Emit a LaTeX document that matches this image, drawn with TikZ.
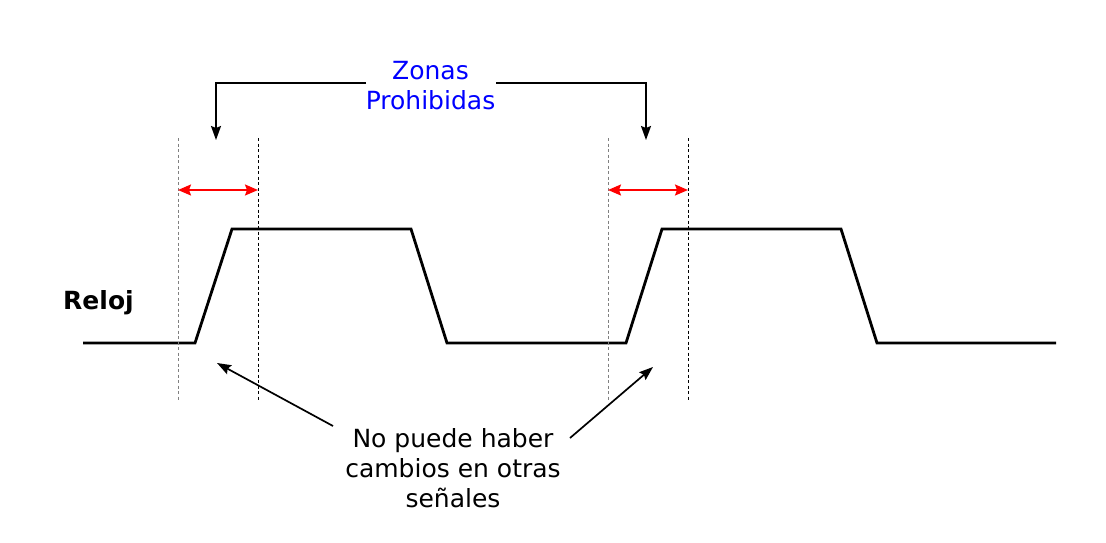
\documentclass[tikz,border=0pt]{standalone}
\usepackage{fontspec}
\setmainfont{DejaVu Sans}
\usetikzlibrary{arrows.meta}
\begin{document}
\begin{tikzpicture}[x=1pt,y=-1pt,
  wave/.style={line width=2.8pt, line join=miter},
  guide/.style={line width=0.9pt, dash pattern=on 3pt off 2.5pt},
  zone/.style={red, line width=1.8pt, {Stealth[length=13pt,width=11pt,inset=2pt]}-{Stealth[length=13pt,width=11pt,inset=2pt]}},
  pointer/.style={line width=1.7pt, -{Stealth[length=14pt,width=10pt,inset=2pt]}},
  lbl/.style={font=\fontsize{25}{30}\selectfont, align=center, inner sep=0pt}]
\useasboundingbox (0,0) rectangle (1106,542);
% clock waveform
\coordinate (w0) at (83,343);
\coordinate (w1) at (195,343);
\coordinate (w2) at (232,229);
\coordinate (w3) at (411,229);
\coordinate (w4) at (447,343);
\coordinate (w5) at (626,343);
\coordinate (w6) at (662,229);
\coordinate (w7) at (841,229);
\coordinate (w8) at (877,343);
\coordinate (w9) at (1056,343);
\draw[wave] (w0) -- (w1) -- (w2) -- (w3) -- (w4) -- (w5) -- (w6) -- (w7) -- (w8) -- (w9);
\node[lbl, font=\fontsize{25}{30}\selectfont\bfseries] (reloj) at (98.5,303) {Reloj};
% guide lines
\coordinate (g1t) at (178,138); \coordinate (g1b) at (178,400);
\coordinate (g2t) at (258,138); \coordinate (g2b) at (258,400);
\coordinate (g3t) at (608,138); \coordinate (g3b) at (608,400);
\coordinate (g4t) at (688,138); \coordinate (g4b) at (688,400);
\draw[guide, gray] (g1t) -- (g1b);
\draw[guide, black] (g2t) -- (g2b);
\draw[guide, gray] (g3t) -- (g3b);
\draw[guide, black] (g4t) -- (g4b);
% red zone arrows
\coordinate (z1a) at (178,190); \coordinate (z1b) at (258,190);
\coordinate (z2a) at (608,190); \coordinate (z2b) at (688,190);
\draw[zone] (z1a) -- (z1b);
\draw[zone] (z2a) -- (z2b);
% Zonas Prohibidas
\node[lbl, text=blue] (zp) at (430.5,86) {Zonas\\Prohibidas};
\coordinate (bl) at (366,83);
\coordinate (br) at (496,83);
\coordinate (tl) at (216,140);
\coordinate (tr) at (646,140);
\draw[pointer] (bl) -| (tl);
\draw[pointer] (br) -| (tr);
% bottom note
\node[lbl] (note) at (453,468) {No puede haber\\cambios en otras\\señales};
\coordinate (n1) at (333,426);
\coordinate (n1t) at (217,363);
\coordinate (n2) at (570,438);
\coordinate (n2t) at (653,367);
\draw[pointer] (n1) -- (n1t);
\draw[pointer] (n2) -- (n2t);
\end{tikzpicture}
\end{document}
